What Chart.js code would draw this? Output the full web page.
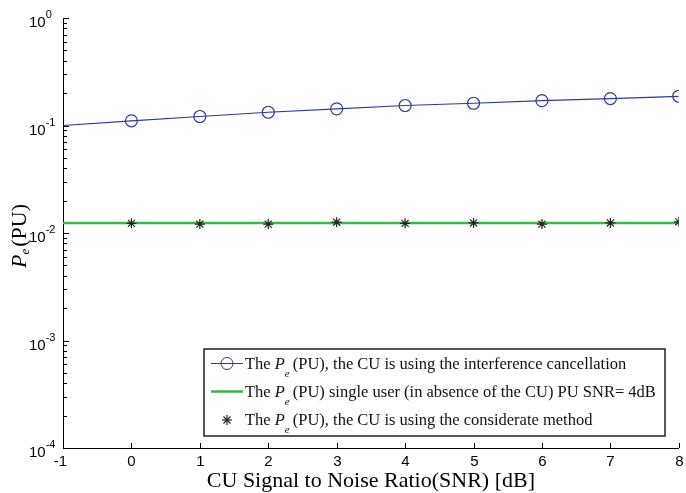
<!DOCTYPE html>
<html>
<head>
<meta charset="utf-8">
<script src="https://cdn.jsdelivr.net/npm/chart.js@4.4.1/dist/chart.umd.min.js"></script>
<style>
  html, body { margin: 0; padding: 0; background: #fff; }
  #wrap { width: 686px; height: 493px; }
</style>
</head>
<body>
<div id="wrap"><canvas id="peChart" width="686" height="493"></canvas></div>
<script>
// 横轴：CU 信噪比 (dB)
const snrDb = [-1, 0, 1, 2, 3, 4, 5, 6, 7, 8];
// 干扰消除时 PU 的误码率（-1 处只有线没有圆圈）
const peInterfCancel = [0.100, 0.1106, 0.1213, 0.1328, 0.1428, 0.1534, 0.1610, 0.1706, 0.1781, 0.1870];
// 单用户（无 CU）PU SNR = 4dB，水平线
const singleX = [-1, 8];
const peSingleUser = [0.0124, 0.0124];
// considerate 方法（星号）
const starX = [0, 1, 2, 3, 4, 5, 6, 7, 8];
const peConsiderate = [0.0123, 0.0121, 0.0121, 0.0126, 0.0123, 0.0124, 0.0121, 0.0124, 0.0127];
// 刻度
const xTicks = [-1, 0, 1, 2, 3, 4, 5, 6, 7, 8];
const yTickExp = [0, -1, -2, -3, -4];

const blue = '#2b3a98';
const green = '#3cb54a';
const starColor = '#222222';

const toPts = (xs, ys) => xs.map((x, i) => ({ x: x, y: ys[i] }));

// 带斜体 P 和下标 e 的文字
function drawRich(ctx, parts, x, y) {
    parts.forEach(p => {
        ctx.font = p.font;
        ctx.fillText(p.text, x, y + (p.dy || 0));
        x += ctx.measureText(p.text).width + (p.gap || 0);
    });
}

const decorPlugin = {
    id: 'decor',
    afterDraw(chart) {
        const ctx = chart.ctx;
        const xs = chart.scales.x, ys = chart.scales.y;
        const area = chart.chartArea;
        ctx.save();
        ctx.strokeStyle = '#000';
        ctx.fillStyle = '#000';
        ctx.lineWidth = 1;

        // x 轴刻度（朝内）
        xTicks.forEach(v => {
            const px = Math.round(xs.getPixelForValue(v)) + 0.5;
            ctx.beginPath();
            ctx.moveTo(px, area.bottom);
            ctx.lineTo(px, area.bottom - 5);
            ctx.stroke();
            ctx.font = '15px "Liberation Sans", Arial, sans-serif';
            ctx.textAlign = 'center';
            ctx.textBaseline = 'middle';
            ctx.fillText(String(v), px - (v < 0 ? 3 : 0), area.bottom + 14);
        });

        // y 轴主/次刻度
        yTickExp.forEach(e => {
            const py = Math.round(ys.getPixelForValue(Math.pow(10, e))) + 0.5;
            ctx.beginPath();
            ctx.moveTo(area.left, py);
            ctx.lineTo(area.left + 6, py);
            ctx.stroke();
            if (e > -4) {
                for (let m = 2; m <= 9; m++) {
                    const my = Math.round(ys.getPixelForValue(m * Math.pow(10, e - 1))) + 0.5;
                    ctx.beginPath();
                    ctx.moveTo(area.left, my);
                    ctx.lineTo(area.left + 4, my);
                    ctx.stroke();
                }
            }
            ctx.textAlign = 'left';
            ctx.textBaseline = 'alphabetic';
            ctx.font = '15px "Liberation Sans", Arial, sans-serif';
            ctx.fillText('10', 29, py + 8);
            const w = ctx.measureText('10').width;
            ctx.font = '11px "Liberation Sans", Arial, sans-serif';
            ctx.fillText(String(e), 29 + w, py - 1);
        });

        // x 轴标题
        ctx.textAlign = 'center';
        ctx.textBaseline = 'alphabetic';
        ctx.font = '22px "Liberation Serif", "Times New Roman", serif';
        ctx.fillText('CU Signal to Noise Ratio(SNR) [dB]', (area.left + area.right) / 2, 487);

        // y 轴标题 P_e (PU)
        ctx.save();
        ctx.translate(26, 268);
        ctx.rotate(-Math.PI / 2);
        ctx.textAlign = 'left';
        drawRich(ctx, [
            { text: 'P', font: 'italic 22px "Liberation Serif", serif' },
            { text: 'e', font: 'italic 13px "Liberation Serif", serif', dy: 3, gap: 2 },
            { text: '(PU)', font: '22px "Liberation Serif", serif' }
        ], 0, 0);
        ctx.restore();

        // 图例
        const lx = 204, ly = 349, lw = 461, lh = 87;
        ctx.fillStyle = '#fff';
        ctx.fillRect(lx, ly, lw, lh);
        ctx.strokeStyle = '#222';
        ctx.lineWidth = 1.5;
        ctx.strokeRect(lx, ly, lw, lh);

        const rowsY = [363.5, 391.5, 420];
        // 第一行：蓝线+圆圈
        ctx.strokeStyle = blue;
        ctx.lineWidth = 1;
        ctx.beginPath();
        ctx.moveTo(211, rowsY[0]);
        ctx.lineTo(243, rowsY[0]);
        ctx.stroke();
        ctx.beginPath();
        ctx.arc(227, rowsY[0], 6, 0, Math.PI * 2);
        ctx.stroke();
        // 第二行：绿线
        ctx.strokeStyle = green;
        ctx.lineWidth = 2.5;
        ctx.beginPath();
        ctx.moveTo(211, rowsY[1]);
        ctx.lineTo(243, rowsY[1]);
        ctx.stroke();
        // 第三行：星号
        ctx.strokeStyle = starColor;
        ctx.lineWidth = 1.2;
        const sx = 227, sy = rowsY[2], r = 5;
        for (let k = 0; k < 4; k++) {
            const a = k * Math.PI / 4;
            ctx.beginPath();
            ctx.moveTo(sx - r * Math.cos(a), sy - r * Math.sin(a));
            ctx.lineTo(sx + r * Math.cos(a), sy + r * Math.sin(a));
            ctx.stroke();
        }

        ctx.fillStyle = '#111';
        ctx.textAlign = 'left';
        ctx.textBaseline = 'alphabetic';
        const serif = '"Liberation Serif", "Times New Roman", serif';
        const lead = [
            { text: 'The ', font: '16.5px ' + serif },
            { text: 'P', font: 'italic 16.5px ' + serif },
            { text: 'e', font: 'italic 11px ' + serif, dy: 8, gap: 3 }
        ];
        const tails = [
            '(PU), the CU is using the interference cancellation',
            '(PU) single user (in absence of the CU) PU SNR= 4dB',
            '(PU), the CU is using the considerate method'
        ];
        tails.forEach((t, i) => {
            drawRich(ctx, lead.concat([{ text: t, font: '16.5px ' + serif }]), 245, rowsY[i] + 5);
        });

        ctx.restore();
    }
};

new Chart(document.getElementById('peChart'), {
    type: 'scatter',
    data: {
        datasets: [
            {
                label: 'interference cancellation',
                data: toPts(snrDb, peInterfCancel),
                showLine: true,
                borderColor: blue,
                backgroundColor: 'rgba(0,0,0,0)',
                borderWidth: 1.2,
                pointStyle: 'circle',
                pointRadius: ctx => (ctx.dataIndex === 0 ? 0 : 6),
                pointBorderColor: blue,
                pointBorderWidth: 1.2,
                pointBackgroundColor: 'rgba(0,0,0,0)',
                order: 2
            },
            {
                label: 'single user',
                data: toPts(singleX, peSingleUser),
                showLine: true,
                borderColor: green,
                borderWidth: 2.5,
                pointRadius: 0,
                order: 1
            },
            {
                label: 'considerate',
                data: toPts(starX, peConsiderate),
                showLine: false,
                pointStyle: 'star',
                pointRadius: 5,
                pointBorderColor: starColor,
                pointBorderWidth: 1.2,
                pointBackgroundColor: starColor,
                order: 0
            }
        ]
    },
    options: {
        responsive: false,
        animation: false,
        events: [],
        layout: { padding: { top: 18, right: 6, left: 0, bottom: 0 } },
        plugins: {
            legend: { display: false },
            tooltip: { enabled: false }
        },
        scales: {
            x: {
                type: 'linear',
                min: -1,
                max: 8,
                grid: { display: false },
                border: { display: true, color: '#000', width: 1 },
                ticks: { display: false },
                afterFit: s => { s.height = 45; }
            },
            y: {
                type: 'logarithmic',
                min: 1e-4,
                max: 1,
                grid: { display: false },
                border: { display: true, color: '#000', width: 1 },
                ticks: { display: false },
                afterFit: s => { s.width = 63; }
            }
        }
    },
    plugins: [decorPlugin]
});
</script>
</body>
</html>
